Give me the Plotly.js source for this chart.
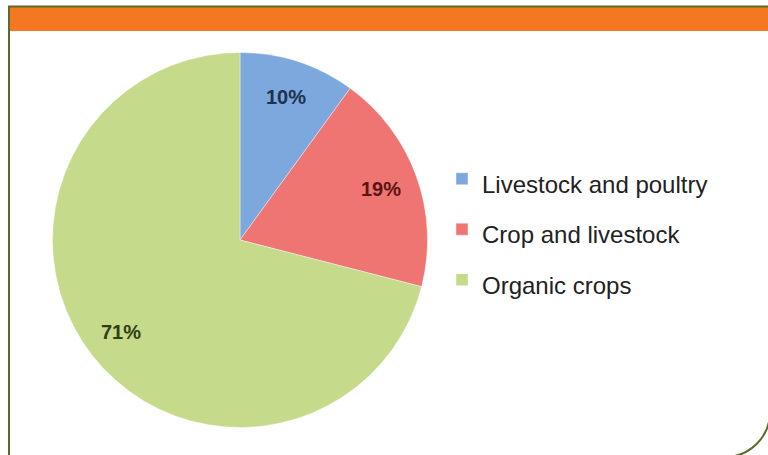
<!DOCTYPE html>
<html>
<head>
<meta charset="utf-8">
<script src="https://cdn.plot.ly/plotly-3.0.1.min.js"></script>
<style>
  html, body { margin: 0; padding: 0; background: #ffffff; }
  #chart { width: 768px; height: 455px; }
</style>
</head>
<body>
<div id="chart"></div>
<script>
// ---- data ----
var labels = ['Livestock and poultry', 'Crop and livestock', 'Organic crops'];
var values = [10, 19, 71];
var sliceColors = ['#7ca8dd', '#ee7572', '#c6da8b'];
var textColors = ['#1e3150', '#5a1412', '#2f4012'];

// ---- layout helpers (pixels -> paper) ----
var W = 768, H = 455;
function px(x) { return x / W; }
function py(y) { return 1 - y / H; }

var cx = 240, cy = 240, R = 187.5;

var legendLabels = labels.map(function (l) {
  return '<span style="font-size:24px">' + l + '</span>';
});

var trace = {
  type: 'pie',
  labels: legendLabels,
  values: values,
  sort: false,
  direction: 'clockwise',
  rotation: 0,
  marker: { colors: sliceColors, line: { color: '#ffffff', width: 0.4 } },
  textinfo: 'none',
  hoverinfo: 'label+percent',
  domain: { x: [px(cx - R), px(cx + R)], y: [py(cy + R), py(cy - R)] }
};

// percent labels placed along each slice's mid-angle (computed from the data)
var total = values.reduce(function (a, b) { return a + b; }, 0);
var cum = 0;
var annotations = values.map(function (v, i) {
  var mid = (cum + v / 2) / total * 2 * Math.PI;
  cum += v;
  var rr = 0.8 * R;
  return {
    xref: 'paper', yref: 'paper',
    x: px(cx + rr * Math.sin(mid)), y: py(cy - rr * Math.cos(mid)),
    xanchor: 'center', yanchor: 'middle',
    showarrow: false,
    text: Math.round(v / total * 100) + '%',
    font: { family: 'Liberation Sans, Arial, sans-serif', size: 20, color: textColors[i], weight: 'bold' }
  };
});

// rounded frame path
var xL = 9, yT = 6.5, xR = 770, yB = 457, r = 45, k = 0.5523 * r;
var framePath =
  'M' + px(xL) + ',' + py(yB + 5) +
  ' L' + px(xL) + ',' + py(yT) +
  ' L' + px(xR) + ',' + py(yT) +
  ' L' + px(xR) + ',' + py(yB - r) +
  ' C' + px(xR) + ',' + py(yB - r + k) + ' ' + px(xR - r + k) + ',' + py(yB) + ' ' + px(xR - r) + ',' + py(yB) +
  ' L' + px(xL) + ',' + py(yB);

var layout = {
  width: W, height: H,
  margin: { l: 0, r: 0, t: 0, b: 0 },
  paper_bgcolor: '#ffffff',
  plot_bgcolor: '#ffffff',
  showlegend: true,
  legend: {
    x: px(442), xanchor: 'left',
    y: py(148.5), yanchor: 'top',
    font: { family: 'Liberation Sans, Arial, sans-serif', size: 36.5, color: '#222222' },
    bgcolor: 'rgba(0,0,0,0)',
    borderwidth: 0
  },
  annotations: annotations,
  shapes: [
    { type: 'rect', xref: 'paper', yref: 'paper', x0: px(10), x1: px(775), y0: py(31), y1: py(7),
      fillcolor: '#f47721', line: { width: 0 } },
    { type: 'path', xref: 'paper', yref: 'paper', path: framePath,
      line: { color: '#5d6b2a', width: 2 }, fillcolor: 'rgba(0,0,0,0)' }
  ]
};

Plotly.newPlot('chart', [trace], layout, { displayModeBar: false, staticPlot: true });
</script>
</body>
</html>
